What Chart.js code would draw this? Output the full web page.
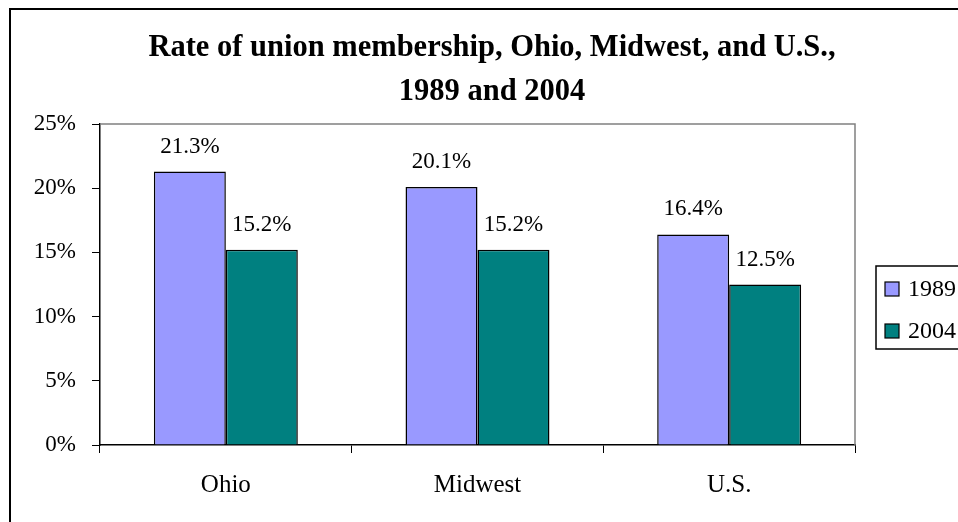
<!DOCTYPE html>
<html>
<head>
<meta charset="utf-8">
<script src="https://cdn.jsdelivr.net/npm/chart.js@4"></script>
<style>
html,body{margin:0;padding:0;background:#fff;}
canvas{display:block;}
</style>
</head>
<body>
<canvas id="c" width="958" height="522"></canvas>
<script>
const categories = ["Ohio", "Midwest", "U.S."];
const seriesLabels = ["1989", "2004"];
const values1989 = [21.3, 20.1, 16.4];
const values2004 = [15.2, 15.2, 12.5];
const titleLines = ["Rate of union membership, Ohio, Midwest, and U.S.,", "1989 and 2004"];
const yTicks = [0, 5, 10, 15, 20, 25];

const FONT = '"Liberation Serif", "Times New Roman", serif';

const framePlugin = {
  id: 'frame',
  beforeDraw(chart) {
    const ctx = chart.ctx;
    ctx.save();
    ctx.fillStyle = '#fff';
    ctx.fillRect(0, 0, chart.width, chart.height);
    ctx.strokeStyle = '#000';
    ctx.lineWidth = 2;
    ctx.strokeRect(10, 9, chart.width + 20, chart.height + 20);
    ctx.restore();
  },
  beforeDatasetsDraw(chart) {
    const ctx = chart.ctx, a = chart.chartArea;
    ctx.save();
    ctx.strokeStyle = '#808080';
    ctx.lineWidth = 1.5;
    ctx.beginPath();
    ctx.moveTo(a.left, a.top);
    ctx.lineTo(a.right, a.top);
    ctx.lineTo(a.right, a.bottom);
    ctx.stroke();
    ctx.restore();
  },
  afterDraw(chart) {
    const ctx = chart.ctx;
    ctx.save();
    // title
    ctx.fillStyle = '#000';
    ctx.textAlign = 'center';
    ctx.textBaseline = 'alphabetic';
    ctx.font = 'bold 30.5px ' + FONT;
    ctx.fillText(titleLines[0], 492, 56);
    ctx.fillText(titleLines[1], 492, 100);
    // data labels
    ctx.font = '23px ' + FONT;
    chart.data.datasets.forEach((ds, di) => {
      const meta = chart.getDatasetMeta(di);
      meta.data.forEach((el, i) => {
        ctx.fillText(ds.data[i].toFixed(1) + '%', el.x, el.y - 19);
      });
    });
    // legend
    ctx.strokeStyle = '#000';
    ctx.lineWidth = 1.5;
    ctx.strokeRect(876, 266, 120, 83);
    ctx.textAlign = 'left';
    ctx.textBaseline = 'middle';
    ctx.font = '24px ' + FONT;
    const ys = [289, 331];
    chart.data.datasets.forEach((ds, di) => {
      ctx.fillStyle = ds.backgroundColor;
      ctx.fillRect(885, ys[di] - 7, 14, 14);
      ctx.lineWidth = 1.2;
      ctx.strokeRect(885, ys[di] - 7, 14, 14);
      ctx.fillStyle = '#000';
      ctx.fillText(ds.label, 908, ys[di] + 1);
    });
    ctx.restore();
  }
};

new Chart(document.getElementById('c'), {
  type: 'bar',
  data: {
    labels: categories,
    datasets: [
      { label: seriesLabels[0], data: values1989, backgroundColor: '#9999FF', borderColor: '#000', borderWidth: 1.5 },
      { label: seriesLabels[1], data: values2004, backgroundColor: '#008080', borderColor: '#000', borderWidth: 1.5 }
    ]
  },
  options: {
    responsive: false,
    animation: false,
    layout: { padding: { top: 124, right: 103, left: 0, bottom: 0 } },
    datasets: { bar: { categoryPercentage: 0.572, barPercentage: 1.0 } },
    plugins: { legend: { display: false }, title: { display: false }, tooltip: { enabled: false } },
    scales: {
      x: {
        grid: { drawOnChartArea: false, drawTicks: true, tickLength: 8, color: '#000', offset: true },
        border: { display: true, color: '#000', width: 1.5 },
        ticks: { color: '#000', font: { family: FONT, size: 25 }, padding: 17 },
        afterFit(s) { s.height = 77; }
      },
      y: {
        min: 0, max: 25,
        afterBuildTicks(s) { s.ticks = yTicks.map(v => ({ value: v })); },
        grid: { drawOnChartArea: false, drawTicks: true, tickLength: 8, color: '#000' },
        border: { display: true, color: '#000', width: 1.5 },
        ticks: { color: '#000', font: { family: FONT, size: 23 }, padding: 16, callback: v => v + '%' },
        afterFit(s) { s.width = 100; }
      }
    }
  },
  plugins: [framePlugin]
});
</script>
</body>
</html>
